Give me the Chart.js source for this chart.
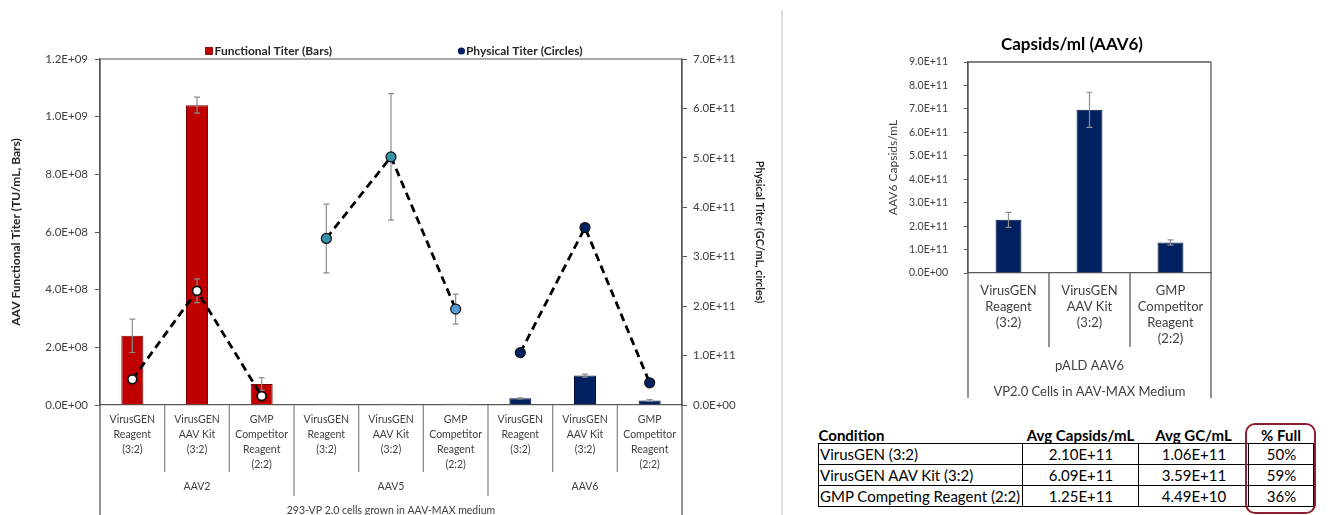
<!DOCTYPE html>
<html>
<head>
<meta charset="utf-8">
<script src="https://cdn.jsdelivr.net/npm/chart.js@4.4.1/dist/chart.umd.min.js"></script>
<style>
  html, body { margin: 0; padding: 0; background: #fff; }
  body { width: 1338px; height: 515px; position: relative; overflow: hidden; font-family: Lato, "Open Sans", sans-serif; }
  #titerWrap { position: absolute; left: 0; top: 0; width: 770px; height: 515px; }
  #capsidWrap { position: absolute; left: 790px; top: 0; width: 548px; height: 410px; }
  .divider { position: absolute; left: 781px; top: 10px; width: 2px; height: 505px; background: #dcdfe7; }
  .capsid-title { position: absolute; left: 962px; top: 34px; width: 220px; text-align: center;
                  font-weight: bold; font-size: 17px; line-height: 20px; color: #000; }
  table.summary { position: absolute; left: 818px; top: 428px; border-collapse: collapse;
                  font-size: 15px; color: #000; table-layout: fixed; }
  table.summary th { font-weight: bold; height: 15px; line-height: 15px; padding: 0; border: none; }
  table.summary td { border: 1px solid #000; height: 20px; line-height: 20px; padding: 0 0 0 1px; }
  table.summary th.l, table.summary td.l { text-align: left; }
  table.summary th.c, table.summary td.c { text-align: center; }
  .highlight { position: absolute; left: 1245px; top: 423px; width: 67px; height: 87px;
               border: 2px solid #8b1f2f; border-radius: 10px; }
</style>
</head>
<body>
<div id="titerWrap"><canvas id="titerChart"></canvas></div>
<div class="divider"></div>
<div id="capsidWrap"><canvas id="capsidChart"></canvas></div>
<div class="capsid-title">Capsids/ml (AAV6)</div>

<table class="summary">
  <colgroup><col style="width:204px"><col style="width:116px"><col style="width:110px"><col style="width:65px"></colgroup>
  <thead>
    <tr><th class="l">Condition</th><th class="c">Avg Capsids/mL</th><th class="c">Avg GC/mL</th><th class="c">% Full</th></tr>
  </thead>
  <tbody id="summaryBody"></tbody>
</table>
<div class="highlight"></div>

<script>
// ---------- data ----------
const conditionLabels = [
  ['VirusGEN', 'Reagent', '(3:2)'],
  ['VirusGEN', 'AAV Kit', '(3:2)'],
  ['GMP', 'Competitor', 'Reagent', '(2:2)']
];
const serotypes = ['AAV2', 'AAV5', 'AAV6'];
const cellLineNote = '293-VP 2.0 cells grown in AAV-MAX medium';

// functional titer (TU/mL), one per serotype x condition
const functionalTiter = [2.40e8, 1.04e9, 7.3e7, 5e6, 5e6, 5e6, 2.3e7, 1.02e8, 1.6e7];
const functionalError = [5.8e7, 2.8e7, 2.2e7, 0, 0, 0, 2e6, 5e6, 3e6];

// physical titer (GC/mL)
const physicalTiter = [5.2e10, 2.31e11, 1.8e10, 3.37e11, 5.02e11, 1.94e11, 1.06e11, 3.59e11, 4.49e10];
const physicalError = [0, 2.4e10, 0, 6.95e10, 1.28e11, 3.05e10, 4e9, 3e9, 2e9];

// AAV6 capsids/mL
const capsidGroup = 'pALD AAV6';
const capsidNote = 'VP2.0 Cells in AAV-MAX Medium';
const capsids = [2.27e11, 6.96e11, 1.30e11];
const capsidError = [3.2e10, 7.5e10, 1.1e10];

// summary table
const summaryConditions = ['VirusGEN (3:2)', 'VirusGEN AAV Kit (3:2)', 'GMP Competing Reagent (2:2)'];
const avgCapsids = ['2.10E+11', '6.09E+11', '1.25E+11'];
const avgGC = ['1.06E+11', '3.59E+11', '4.49E+10'];
const percentFull = ['50%', '59%', '36%'];

// ---------- styling ----------
const FONT = 'Lato, "Open Sans", sans-serif';
const TEXT = '#404040';
const AXIS = '#595959';
const RULE = '#8c8c8c';
const serotypeBarFill = ['#c00000', '#a5acb4', '#002060'];
const serotypeBarEdge = ['#7a0000', '#a5acb4', '#00133d'];
const serotypePointFill = [
  ['#ffffff', '#ffffff', '#ffffff'],
  ['#3591a6', '#3591a6', '#5b9bd5'],
  ['#002060', '#002060', '#002060']
];

Chart.defaults.font.family = FONT;
Chart.defaults.color = TEXT;
Chart.defaults.animation = false;

function sci(v) {
  if (v === 0) return '0.0E+00';
  const e = Math.floor(Math.log10(Math.abs(v)) + 1e-9);
  const m = v / Math.pow(10, e);
  return m.toFixed(1) + 'E+' + String(e).padStart(2, '0');
}

// summary rows
const body = document.getElementById('summaryBody');
summaryConditions.forEach((c, i) => {
  const tr = document.createElement('tr');
  [[c, 'l'], [avgCapsids[i], 'c'], [avgGC[i], 'c'], [percentFull[i], 'c']].forEach(([t, cls]) => {
    const td = document.createElement('td'); td.className = cls; td.textContent = t; tr.appendChild(td);
  });
  body.appendChild(tr);
});

// ---------- error bars ----------
function drawErrors(chart, index) {
  const ds = chart.data.datasets[index];
  if (!ds.errors) return;
  const meta = chart.getDatasetMeta(index);
  const yScale = chart.scales[meta.yAxisID];
  const ctx = chart.ctx;
  ctx.save();
  ctx.strokeStyle = '#8c8c8c';
  ctx.lineWidth = 1.2;
  meta.data.forEach((el, i) => {
    const v = ds.data[i], e = ds.errors[i];
    if (v == null || !e) return;
    const x = el.x;
    const yt = yScale.getPixelForValue(v + e);
    const yb = yScale.getPixelForValue(Math.max(v - e, 0));
    ctx.beginPath();
    ctx.moveTo(x, yt); ctx.lineTo(x, yb);
    ctx.moveTo(x - 3, yt); ctx.lineTo(x + 3, yt);
    ctx.moveTo(x - 3, yb); ctx.lineTo(x + 3, yb);
    ctx.stroke();
  });
  ctx.restore();
}
const errorBars = {
  id: 'errorBars',
  beforeDatasetDraw(chart, args) {
    if (chart.data.datasets[args.index].type === 'line') drawErrors(chart, args.index);
  },
  afterDatasetDraw(chart, args) {
    if (chart.data.datasets[args.index].type !== 'line') drawErrors(chart, args.index);
  }
};

// ---------- titer chart ----------
const titerLabels = [];
serotypes.forEach(() => conditionLabels.forEach(l => titerLabels.push(l)));
const groupOf = i => Math.floor(i / conditionLabels.length);

const lineSets = serotypes.map((s, g) => ({
  type: 'line',
  label: 'Physical Titer (Circles)',
  yAxisID: 'y2',
  data: physicalTiter.map((v, i) => groupOf(i) === g ? v : null),
  errors: physicalError.map((v, i) => groupOf(i) === g ? v : null),
  borderColor: '#000',
  borderWidth: 2.8,
  borderDash: [8, 5],
  spanGaps: false,
  pointRadius: g === 0 ? 4.5 : 5,
  pointBorderWidth: g === 0 ? 1.8 : 1.2,
  pointBorderColor: '#111',
  pointBackgroundColor: physicalTiter.map((v, i) => groupOf(i) === g ? serotypePointFill[g][i % 3] : '#000'),
  legendColor: '#002060'
}));

const barSet = {
  type: 'bar',
  label: 'Functional Titer (Bars)',
  yAxisID: 'y',
  data: functionalTiter,
  errors: functionalError,
  backgroundColor: functionalTiter.map((v, i) => serotypeBarFill[groupOf(i)]),
  borderColor: functionalTiter.map((v, i) => serotypeBarEdge[groupOf(i)]),
  borderWidth: 1,
  barPercentage: 0.34,
  categoryPercentage: 1,
  legendColor: '#c00000'
};

const titerDecor = {
  id: 'titerDecor',
  afterDraw(chart) {
    const ctx = chart.ctx;
    const { left, right, top, bottom } = chart.chartArea;
    const x = chart.scales.x;
    const H = chart.height;
    const n = titerLabels.length;
    const px = i => x.getPixelForValue(i);
    ctx.save();

    // plot frame top and the outer rules running down past the labels
    ctx.strokeStyle = RULE; ctx.lineWidth = 1.3;
    ctx.beginPath(); ctx.moveTo(left, top); ctx.lineTo(right, top); ctx.stroke();
    ctx.strokeStyle = AXIS;
    ctx.beginPath();
    ctx.moveTo(left, top); ctx.lineTo(left, H);
    ctx.moveTo(right, top); ctx.lineTo(right, H);
    ctx.stroke();

    // category / serotype separators
    ctx.strokeStyle = RULE; ctx.lineWidth = 1.3;
    ctx.beginPath();
    for (let i = 1; i < n; i++) {
      const bx = (px(i - 1) + px(i)) / 2;
      const edge = i % conditionLabels.length === 0;
      ctx.moveTo(bx, bottom);
      ctx.lineTo(bx, bottom + (edge ? 91 : 67));
    }
    ctx.stroke();

    // serotype labels
    ctx.fillStyle = TEXT;
    ctx.font = '10.5px ' + FONT;
    ctx.textAlign = 'center'; ctx.textBaseline = 'middle';
    serotypes.forEach((s, g) => {
      const a = g * 3, b = a + 2;
      ctx.fillText(s, (px(a) + px(b)) / 2, bottom + 82);
    });
    ctx.fillText(cellLineNote, (left + right) / 2, bottom + 106);

    // legend
    const bar = chart.data.datasets.find(d => d.type === 'bar');
    const line = chart.data.datasets.find(d => d.type === 'line');
    ctx.font = 'bold 12px ' + FONT;
    ctx.textAlign = 'left';
    const w1 = 9 + ctx.measureText(bar.label).width;
    const w2 = 8 + ctx.measureText(line.label).width;
    const gap = 126;
    let lx = (left + right) / 2 - (w1 + gap + w2) / 2 + 3;
    const ly = top - 8;
    ctx.fillStyle = bar.legendColor;
    ctx.fillRect(lx, ly - 3.5, 7, 7);
    ctx.strokeStyle = '#7a0000'; ctx.lineWidth = 0.8; ctx.strokeRect(lx, ly - 3.5, 7, 7);
    ctx.fillStyle = '#262626';
    ctx.fillText(bar.label, lx + 9, ly + 0.5);
    lx += w1 + gap;
    ctx.fillStyle = line.legendColor;
    ctx.beginPath(); ctx.arc(lx + 3.5, ly, 3.6, 0, Math.PI * 2); ctx.fill();
    ctx.fillStyle = '#262626';
    ctx.fillText(line.label, lx + 8, ly + 0.5);
    ctx.restore();
  }
};

new Chart(document.getElementById('titerChart'), {
  type: 'bar',
  data: { labels: titerLabels, datasets: [...lineSets, barSet] },
  options: {
    responsive: true,
    maintainAspectRatio: false,
    layout: { padding: { top: 59, left: 0, right: 0, bottom: 0 } },
    plugins: { legend: { display: false }, tooltip: { enabled: false } },
    scales: {
      x: {
        offset: true,
        afterFit: s => { s.height = 110; },
        grid: { display: false, drawTicks: false },
        border: { display: true, color: AXIS, width: 1.3 },
        ticks: { autoSkip: false, maxRotation: 0, padding: 7.5, color: TEXT,
                 font: { size: 10.5, lineHeight: 1.43 } }
      },
      y: {
        position: 'left',
        min: 0, max: 1.2e9,
        afterFit: s => { s.width = 100; },
        grid: { drawOnChartArea: false, drawTicks: true, tickLength: 5, color: AXIS },
        border: { display: true, color: AXIS, width: 1.3 },
        ticks: { stepSize: 2e8, padding: 7, color: TEXT, font: { size: 11.5 }, callback: v => sci(v) },
        title: { display: true, text: 'AAV Functional Titer (TU/mL, Bars)', color: '#262626',
                 font: { size: 12, weight: 'bold' }, padding: { top: 9, bottom: 0 } }
      },
      y2: {
        position: 'right',
        min: 0, max: 7e11,
        afterFit: s => { s.width = 88; },
        grid: { drawOnChartArea: false, drawTicks: true, tickLength: 5, color: AXIS },
        border: { display: true, color: AXIS, width: 1.3 },
        ticks: { stepSize: 1e11, padding: 6, color: TEXT, font: { size: 11.5 }, callback: v => sci(v) },
        title: { display: true, text: 'Physical Titer (GC/mL, circles)', color: '#262626',
                 font: { size: 10.8, weight: 'bold' }, padding: { top: 4, bottom: 0 } }
      }
    }
  },
  plugins: [errorBars, titerDecor]
});

// ---------- capsid chart ----------
const capsidDecor = {
  id: 'capsidDecor',
  afterDraw(chart) {
    const ctx = chart.ctx;
    const { left, right, top, bottom } = chart.chartArea;
    const x = chart.scales.x;
    const px = i => x.getPixelForValue(i);
    ctx.save();
    ctx.strokeStyle = AXIS; ctx.lineWidth = 1.3;
    ctx.beginPath();
    ctx.moveTo(left, top); ctx.lineTo(right, top);
    ctx.moveTo(left, top); ctx.lineTo(left, bottom + 125);
    ctx.moveTo(right, top); ctx.lineTo(right, bottom + 125);
    for (let i = 1; i < capsids.length; i++) {
      const bx = (px(i - 1) + px(i)) / 2;
      ctx.moveTo(bx, bottom); ctx.lineTo(bx, bottom + 74);
    }
    ctx.stroke();
    ctx.fillStyle = TEXT;
    ctx.font = '13px ' + FONT;
    ctx.textAlign = 'center'; ctx.textBaseline = 'middle';
    ctx.fillText(capsidGroup, (left + right) / 2, bottom + 93);
    ctx.fillText(capsidNote, (left + right) / 2, bottom + 119);
    ctx.restore();
  }
};

new Chart(document.getElementById('capsidChart'), {
  type: 'bar',
  data: {
    labels: conditionLabels,
    datasets: [{
      label: 'AAV6 Capsids/mL',
      data: capsids,
      errors: capsidError,
      backgroundColor: '#002060',
      borderColor: '#00133d',
      borderWidth: 1,
      barPercentage: 0.32,
      categoryPercentage: 1
    }]
  },
  options: {
    responsive: true,
    maintainAspectRatio: false,
    layout: { padding: { top: 62, left: 96, right: 127, bottom: 0 } },
    plugins: { legend: { display: false }, tooltip: { enabled: false } },
    scales: {
      x: {
        afterFit: s => { s.height = 137; },
        grid: { display: false, drawTicks: false },
        border: { display: true, color: AXIS, width: 1.3 },
        ticks: { autoSkip: false, maxRotation: 0, padding: 10, color: TEXT,
                 font: { size: 13, lineHeight: 1.23 } }
      },
      y: {
        min: 0, max: 9e11,
        afterFit: s => { s.width = 82; },
        grid: { drawOnChartArea: false, drawTicks: true, tickLength: 4, color: AXIS },
        border: { display: true, color: AXIS, width: 1.3 },
        ticks: { stepSize: 1e11, padding: 16, color: TEXT, font: { size: 10.5 }, callback: v => sci(v) },
        title: { display: true, text: 'AAV6 Capsids/mL', color: TEXT, font: { size: 12 },
                 padding: { top: 0, bottom: 0 } }
      }
    }
  },
  plugins: [errorBars, capsidDecor]
});
</script>
</body>
</html>
